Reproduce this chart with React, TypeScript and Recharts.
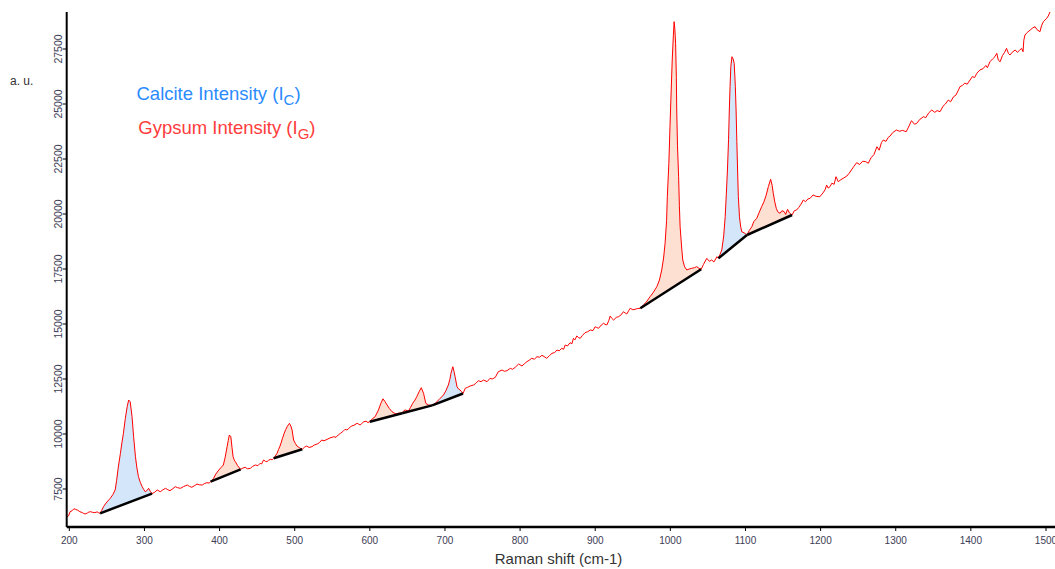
import React from 'react';
import { ComposedChart, Area, Line, XAxis, YAxis } from 'recharts';

// Raman spectrum: [shift cm-1, intensity a.u.]
const spectrum: [number, number][] = [
  [197, 6240], [199, 6280], [201, 6470], [204, 6520], [206, 6600], [208, 6577], [211, 6540], [214, 6470],
  [217, 6430], [219, 6390], [221, 6364], [224, 6410], [226, 6450], [228, 6470], [231, 6440], [234, 6425],
  [237, 6460], [239, 6420], [241, 6395],
  [243, 6520], [245.5, 6695], [248, 6820], [251, 6950], [254.5, 7077], [258, 7250], [261, 7455], [263, 7900],
  [265, 8450], [268, 9123], [270, 9600], [272, 10032], [274.5, 10700], [277, 11241], [279, 11545], [281, 11468],
  [283.5, 10786], [285.5, 9900], [288, 8968], [290, 8450], [292, 8060], [294.5, 7800], [297, 7605], [299, 7480],
  [301, 7377], [303, 7420], [305.5, 7532], [308, 7380], [310, 7290],
  [313, 7340], [317, 7455], [321, 7377], [324, 7450], [328, 7532], [331, 7470], [334, 7423], [338, 7520],
  [341, 7605], [344, 7560], [348, 7532], [352, 7610], [357, 7682], [360, 7620], [363, 7577], [367, 7660],
  [370, 7727], [373, 7690], [377, 7682], [380, 7750], [383, 7786], [386, 7770], [388, 7832],
  [390, 7900], [392, 7986], [395, 8180], [399, 8364], [402, 8480], [405, 8591], [407.5, 8950], [410, 9423],
  [411.5, 9700], [413, 9955], [415, 9877], [416.5, 9400], [418, 8968], [419.5, 8820], [421, 8741], [424, 8560],
  [428, 8395],
  [431, 8450], [434, 8486], [437, 8420], [441, 8441], [444, 8530], [447.5, 8591], [451, 8560], [454, 8668],
  [456, 8640], [458.5, 8818], [461, 8760], [463, 8741], [465, 8800], [467.5, 8850], [470, 8830], [472, 8895],
  [474, 8990], [476.5, 9123], [478.5, 9300], [481, 9500], [483.5, 9780], [486, 10032], [488, 10200], [490, 10332],
  [491.5, 10420], [493, 10486], [495, 10350], [496.5, 10182], [498.5, 9727], [501, 9560], [503, 9455], [506, 9380],
  [510, 9305],
  [513, 9400], [516, 9455], [519, 9390], [523, 9423], [526, 9500], [530, 9545], [533, 9610], [536, 9727],
  [539, 9690], [543, 9755], [547, 9820], [552, 9877], [555, 9850], [558, 9960], [561, 10032], [564, 10110],
  [567, 10214], [569.5, 10180], [572, 10259], [574, 10320], [576, 10364], [579, 10400], [583, 10486], [585, 10450],
  [587, 10409], [589, 10470], [592, 10559], [595, 10580], [597.5, 10520], [600, 10559],
  [603, 10680], [607, 10786], [611.5, 11091], [614.5, 11380], [617.5, 11600], [620, 11480], [623, 11318], [626, 11160],
  [629.5, 11014], [632, 10960], [635, 10909], [638, 10950], [643, 10941],
  [645, 11050], [647, 11091], [651.5, 11041], [654, 11200], [657, 11395], [660, 11540], [662.5, 11695], [665.5, 11920],
  [668.5, 12105], [671.5, 11850], [674.5, 11395], [678, 11318], [683, 11300],
  [687, 11395], [692, 11560], [698, 11773], [701, 11950], [704.5, 12227], [706.5, 12480], [708, 12759], [709.5, 12950],
  [710.5, 13059], [712, 12850], [713.5, 12605], [716, 12150], [718, 12050], [720, 12000], [722, 11930], [724, 11840],
  [727, 12077], [730, 12120], [733.5, 12182], [738, 12227], [741, 12300], [744.5, 12423], [748, 12380], [751.5, 12455],
  [756, 12377], [760, 12532], [763, 12500], [767, 12577], [771, 12832], [776, 12909], [779, 12850], [782.5, 12877],
  [787, 12986], [790, 12940], [793.5, 13032], [798, 13182], [802.5, 13091], [806, 13200], [809, 13286], [812, 13350],
  [815.5, 13441], [819, 13400], [822.5, 13514], [826, 13490], [829, 13577], [832, 13520], [835.5, 13441], [839, 13560],
  [842.5, 13668], [846, 13700], [849, 13818], [852, 13780], [855.5, 13895], [858, 13850], [860, 14045], [863, 14000],
  [866.5, 14150], [869, 14100], [871, 14350], [873, 14280], [875.5, 14455], [878, 14380], [880, 14350], [883, 14480],
  [886.5, 14605], [890, 14650], [893.5, 14727], [897, 14700], [900, 14877], [902, 14840], [904.5, 14805], [908, 14950],
  [911, 15032], [913, 14990], [915.5, 14955], [918, 15150], [920, 15364], [922, 15260], [924.5, 15182], [928, 15300],
  [931, 15332], [934, 15400], [937.5, 15559], [940, 15500], [942, 15455], [944.5, 15600], [946.5, 15714], [950, 15650],
  [953, 15668], [956, 15700], [960, 15714],
  [964, 15864], [968, 16000], [973, 16241], [977, 16420], [982, 16695], [985.5, 17000], [988.5, 17455], [991, 18000],
  [993, 18668], [995, 19700], [996, 20786], [998, 22300], [999.5, 23968], [1001, 25500], [1002.5, 27000], [1004, 28100],
  [1005, 28741], [1006, 28400], [1007, 27759], [1008, 26200], [1008.5, 24727], [1009.5, 23100], [1011, 21695],
  [1012, 20400], [1013, 19423], [1015, 18500], [1016.5, 17909], [1019, 17600], [1022, 17455], [1025, 17500],
  [1028.5, 17532], [1032, 17560], [1035, 17605], [1038, 17540], [1041, 17486],
  [1044, 17700], [1048.5, 17986], [1052, 17850], [1055, 17909], [1058, 17820], [1062, 18059], [1064, 17986],
  [1066, 18150], [1068.5, 18364], [1071, 19000], [1073, 19877], [1074.5, 20900], [1076, 22000], [1077.5, 23400],
  [1078.5, 24727], [1079.5, 25800], [1080.5, 26695], [1082, 27150], [1083.5, 27050], [1085, 26850], [1086.5, 25800],
  [1087.5, 24727], [1088.5, 23300], [1089.5, 22000], [1090.5, 20800], [1092, 19877], [1093.5, 19450], [1095, 19195],
  [1098, 19150], [1102, 19045],
  [1105, 19250], [1108.5, 19423], [1111, 19650], [1115, 19805], [1118, 20050], [1121.5, 20332], [1124.5, 20550],
  [1127.5, 20850], [1130.5, 21250], [1133.5, 21577], [1135.5, 21300], [1137, 20941], [1139, 20550], [1141, 20259],
  [1143, 20100], [1146, 20032], [1148.5, 20150], [1151.5, 20105], [1153.5, 19980], [1156, 20214], [1158.5, 20050],
  [1162, 19955],
  [1165, 20150], [1168, 20182], [1171, 20300], [1174, 20450], [1177, 20636], [1180, 20560], [1183, 20680], [1186, 20714],
  [1190, 20864], [1194, 20800], [1199, 20786], [1203, 20950], [1206, 21100], [1208, 21318], [1210, 21180], [1212.5, 21241],
  [1215, 21400], [1218, 21350], [1220.5, 21695], [1223.5, 21468], [1227, 21560], [1231, 21640], [1235, 21727],
  [1238, 21850], [1241, 22000], [1244, 22150], [1248, 22332], [1252, 22250], [1256, 22400], [1260, 22380],
  [1263.5, 22305], [1267, 22550], [1271, 22700], [1275, 23059], [1278, 22900], [1281, 23250], [1283.5, 23364],
  [1287, 23300], [1290, 23480], [1292.5, 23545], [1296, 23700], [1301, 23818], [1305, 23760], [1309, 23800],
  [1314, 23741], [1317, 23950], [1321, 24241], [1325, 24080], [1328, 24123], [1332, 24300], [1337, 24423],
  [1340, 24380], [1344, 24600], [1348, 24727], [1352, 24620], [1355, 24700], [1359, 24650], [1363, 24900],
  [1366, 25000], [1370, 25182], [1373, 25100], [1377, 25332], [1380, 25400], [1383, 25600], [1385.5, 25786],
  [1389, 25850], [1392, 25950], [1395, 25900], [1399, 26091], [1402, 26250], [1405, 26200], [1408, 26400],
  [1412, 26545], [1416, 26600], [1420, 26750], [1422, 26650], [1425.5, 26923], [1429, 27050], [1432, 27150],
  [1434.5, 27305], [1436.5, 27000], [1439, 26923], [1442, 27200], [1445, 27350], [1447.5, 27532], [1450, 27300],
  [1452, 27227], [1455, 27350], [1459, 27455], [1462, 27350], [1465, 27450], [1467.5, 27532], [1469.5, 27377],
  [1470.5, 27900], [1472, 28136], [1475, 28250], [1479, 28364], [1482, 28450], [1485.5, 28514], [1488, 28380],
  [1492, 28286], [1494, 28550], [1496.5, 28741], [1501, 28895], [1503, 29000], [1505.5, 29195], [1508, 29250],
  [1512, 29400],
];

// integration windows (start / end shift); baseline joins the spectrum at both ends
const calciteBands: [number, number][] = [[241, 310], [683, 724], [1064, 1102]];
const gypsumBands: [number, number][] = [
  [388, 428], [472, 510], [600, 643], [643, 683], [960, 1041], [1102, 1162],
];

const xTicks = [200, 300, 400, 500, 600, 700, 800, 900, 1000, 1100, 1200, 1300, 1400, 1500];
const yTicks = [7500, 10000, 12500, 15000, 17500, 20000, 22500, 25000, 27500];

const FONT = 'Arial, "Liberation Sans", sans-serif';
const CALCITE_FILL = '#d3e6fa';
const GYPSUM_FILL = '#fde0d2';

const intensityAt = (x: number) => spectrum.find((p) => p[0] === x)![1];

const bands = [
  ...calciteBands.map(([a, b]) => ({ a, b, fill: CALCITE_FILL })),
  ...gypsumBands.map(([a, b]) => ({ a, b, fill: GYPSUM_FILL })),
];

const rows = spectrum.map(([x, y]) => {
  const row: Record<string, number | number[] | null> = { x, y };
  bands.forEach((band, i) => {
    const ya = intensityAt(band.a);
    const yb = intensityAt(band.b);
    const base = ya + ((yb - ya) * (x - band.a)) / (band.b - band.a);
    const inside = x >= band.a && x <= band.b;
    row[`fill${i}`] = inside ? [base, y] : null;
    row[`base${i}`] = x === band.a || x === band.b ? base : null;
  });
  return row;
});

function YTick({ x, y, payload }: any) {
  return (
    <text
      x={x}
      y={y}
      transform={`rotate(-90 ${x} ${y})`}
      textAnchor="middle"
      fontSize={10.5}
      fontFamily={FONT}
      fill="#3c3c55"
    >
      {payload.value}
    </text>
  );
}

export default function App() {
  return (
    <div style={{ position: 'absolute', left: 0, top: 0, width: 1055, height: 569, background: '#fff' }}>
      <ComposedChart width={1055} height={569} data={rows} margin={{ top: 12, right: 0, bottom: 0, left: 0 }}>
        <XAxis
          dataKey="x"
          type="number"
          domain={[196.5, 1512]}
          ticks={xTicks}
          interval={0}
          height={42}
          tickSize={4}
          tickMargin={6}
          axisLine={{ stroke: '#000', strokeWidth: 2.5 }}
          tickLine={{ stroke: '#000' }}
          tick={{ fill: '#3c3c55', fontSize: 10, fontFamily: FONT }}
        />
        <YAxis
          type="number"
          domain={[5773, 29182]}
          allowDataOverflow
          ticks={yTicks}
          interval={0}
          width={66.7}
          tickSize={4}
          tickMargin={1}
          axisLine={{ stroke: '#000', strokeWidth: 2 }}
          tickLine={{ stroke: '#000' }}
          tick={<YTick />}
        />
        {bands.map((band, i) => (
          <Area
            key={`fill${i}`}
            dataKey={`fill${i}`}
            type="linear"
            stroke="none"
            fill={band.fill}
            fillOpacity={1}
            isAnimationActive={false}
            dot={false}
            activeDot={false}
          />
        ))}
        <Line
          dataKey="y"
          type="linear"
          stroke="#ff0000"
          strokeWidth={1}
          dot={false}
          activeDot={false}
          isAnimationActive={false}
        />
        {bands.map((_, i) => (
          <Line
            key={`base${i}`}
            dataKey={`base${i}`}
            type="linear"
            connectNulls
            stroke="#000"
            strokeWidth={2.5}
            dot={false}
            activeDot={false}
            isAnimationActive={false}
          />
        ))}
      </ComposedChart>
      <svg
        width={1055}
        height={569}
        style={{ position: 'absolute', left: 0, top: 0, pointerEvents: 'none' }}
        fontFamily={FONT}
      >
        <text x={10} y={85} fontSize={12} fill="#333">a. u.</text>
        <text x={136.5} y={99.5} fontSize={18.5} fill="#2a8bff">
          Calcite Intensity (I<tspan fontSize={15} dy={5}>C</tspan><tspan dy={-5}>)</tspan>
        </text>
        <text x={138.3} y={134} fontSize={18.5} fill="#ff3c3c">
          Gypsum Intensity (I<tspan fontSize={15} dy={5}>G</tspan><tspan dy={-5}>)</tspan>
        </text>
        <text x={558.5} y={564} fontSize={15} textAnchor="middle" fill="#333">Raman shift (cm-1)</text>
      </svg>
    </div>
  );
}
